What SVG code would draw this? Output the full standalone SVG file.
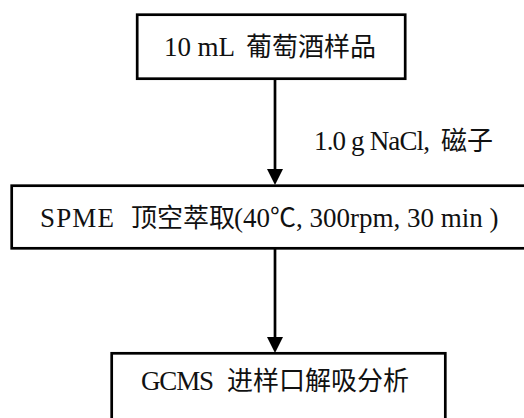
<svg xmlns="http://www.w3.org/2000/svg" width="524" height="418" viewBox="0 0 524 418">
<style>
.box{fill:#fff;stroke:#000;stroke-width:2.7}
.t{font-family:"Liberation Serif","Noto Sans CJK SC",serif;font-size:27px;fill:#111}
.c{font-family:"Noto Sans CJK SC",sans-serif;font-size:26px;fill:#111}
.ln{stroke:#000;stroke-width:2.7;fill:none}
.ah{fill:#000}
</style>
<rect width="524" height="418" fill="#fff"/>
<g id="connectors">
<line class="ln" x1="275" y1="79" x2="275" y2="170"/>
<path class="ah" d="M267,169 L283,169 L275,185 Z"/>
<line class="ln" x1="275" y1="248" x2="275" y2="338"/>
<path class="ah" d="M267,337 L283,337 L275,353 Z"/>
<text class="t" y="150"><tspan x="314" textLength="116" lengthAdjust="spacing">1.0 g NaCl,</tspan><tspan class="c" x="441">磁子</tspan></text>
</g>
<g id="node1">
<rect class="box" x="137.2" y="14.7" width="268" height="64"/>
<text class="t" y="56"><tspan x="164" textLength="71" lengthAdjust="spacing">10 mL</tspan><tspan class="c" x="246">葡萄酒样品</tspan></text>
</g>
<g id="node2">
<rect class="box" x="11.7" y="185.7" width="516" height="62.6"/>
<text class="t" y="227"><tspan x="40" textLength="74" lengthAdjust="spacing">SPME</tspan><tspan class="c" x="131">顶空萃取</tspan><tspan x="234">(40</tspan><tspan class="c">℃</tspan>, 300rpm, 30 min )</text>
</g>
<g id="node3">
<rect class="box" x="111.7" y="353.3" width="333.6" height="80"/>
<text class="t" y="390"><tspan x="141" textLength="73" lengthAdjust="spacing">GCMS</tspan><tspan class="c" x="227">进样口解吸分析</tspan></text>
</g>
</svg>
